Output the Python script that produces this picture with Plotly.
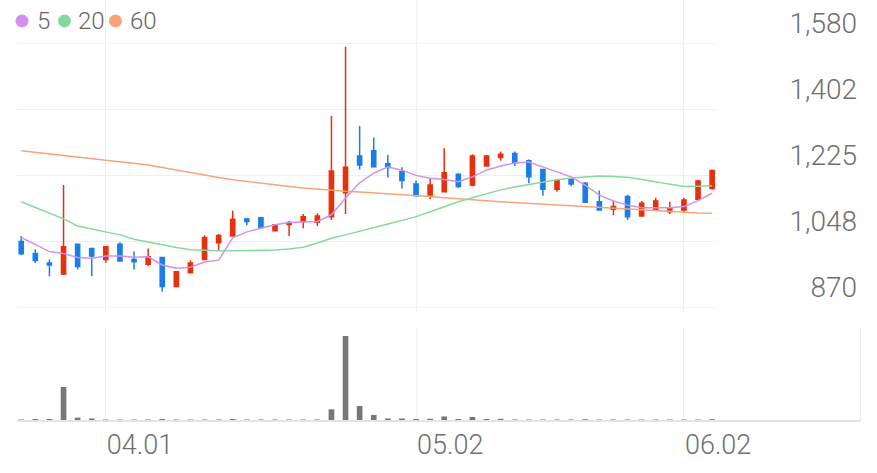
import plotly.graph_objects as go

# ---------------- data ----------------
dates = ["03.24", "03.25", "03.26", "03.27", "03.28", "03.31", "04.01", "04.02", "04.03", "04.04",
         "04.07", "04.08", "04.09", "04.10", "04.11", "04.14", "04.15", "04.16", "04.17", "04.18",
         "04.21", "04.22", "04.23", "04.24", "04.25", "04.28", "04.29", "04.30", "05.02", "05.07",
         "05.08", "05.09", "05.12", "05.13", "05.14", "05.15", "05.16", "05.19", "05.20", "05.21",
         "05.22", "05.23", "05.26", "05.27", "05.28", "05.29", "05.30", "06.02", "06.04", "06.05"]

open_p = [1046, 1014, 988, 959, 1039, 1027, 998, 1039, 998, 985,
          1003, 925, 962, 998, 1043, 1061, 1107, 1110, 1075, 1092,
          1100, 1098, 1113, 1177, 1276, 1290, 1255, 1234, 1201, 1171,
          1180, 1227, 1198, 1249, 1272, 1283, 1263, 1240, 1187, 1212,
          1203, 1153, 1133, 1167, 1115, 1131, 1126, 1131, 1160, 1189]
high_p = [1061, 1025, 998, 1198, 1040, 1028, 1034, 1044, 1019, 1027,
          1004, 967, 996, 1063, 1066, 1129, 1110, 1111, 1093, 1101,
          1120, 1122, 1384, 1570, 1357, 1326, 1279, 1246, 1210, 1214,
          1297, 1230, 1281, 1279, 1288, 1288, 1267, 1242, 1212, 1216,
          1206, 1183, 1156, 1172, 1155, 1164, 1153, 1164, 1212, 1240]
low_p = [1010, 988, 953, 956, 971, 953, 989, 992, 971, 980,
         911, 923, 960, 996, 1022, 1060, 1090, 1083, 1073, 1061,
         1082, 1088, 1104, 1120, 1240, 1245, 1218, 1189, 1168, 1160,
         1178, 1191, 1195, 1248, 1263, 1249, 1203, 1169, 1180, 1195,
         1150, 1130, 1117, 1104, 1113, 1129, 1120, 1124, 1158, 1185]
close_p = [1013, 995, 983, 1032, 979, 1007, 1032, 994, 992, 1005,
           925, 965, 988, 1057, 1062, 1106, 1100, 1084, 1091, 1097,
           1113, 1115, 1236, 1246, 1252, 1247, 1245, 1210, 1169, 1198,
           1231, 1194, 1276, 1276, 1281, 1258, 1220, 1187, 1210, 1201,
           1152, 1131, 1140, 1113, 1149, 1155, 1135, 1158, 1209, 1237]

ma5 = [1057, 1037, 1019, 1014, 1003, 1001, 1007, 1007, 1004, 1005,
       983, 974, 977, 991, 996, 1056, 1072, 1082, 1091, 1097,
       1099, 1100, 1118, 1163, 1204, 1230, 1247, 1238, 1224, 1216,
       1213, 1207, 1220, 1238, 1249, 1257, 1260, 1246, 1233, 1220,
       1198, 1171, 1155, 1144, 1137, 1136, 1137, 1140, 1156, 1176]
ma20 = [1153, 1137, 1121, 1107, 1088, 1080, 1073, 1064, 1052, 1044,
        1037, 1030, 1024, 1022, 1021, 1021, 1021, 1021, 1023, 1026,
        1031, 1042, 1055, 1064, 1073, 1083, 1093, 1103, 1113, 1126,
        1140, 1153, 1164, 1175, 1185, 1193, 1200, 1207, 1212, 1217,
        1220, 1222, 1221, 1219, 1213, 1207, 1200, 1194, 1195, 1196]
ma60 = [1290, 1286, 1282, 1278, 1274, 1270, 1265, 1261, 1257, 1252,
        1245, 1238, 1230, 1224, 1218, 1212, 1207, 1203, 1198, 1194,
        1190, 1187, 1183, 1181, 1179, 1177, 1175, 1172, 1169, 1167,
        1164, 1161, 1158, 1156, 1153, 1151, 1148, 1146, 1144, 1142,
        1140, 1137, 1135, 1132, 1130, 1128, 1126, 1124, 1123, 1122]

volume = [5000, 10000, 10000, 330000, 24000, 15000, 5000, 5000, 5000, 5000,
          10000, 5000, 5000, 5000, 5000, 10000, 5000, 5000, 5000, 5000,
          5000, 5000, 107000, 840000, 140000, 50000, 15000, 15000, 10000, 12000,
          35000, 10000, 30000, 10000, 12000, 5000, 5000, 5000, 5000, 5000,
          8000, 5000, 5000, 5000, 5000, 5000, 5000, 5000, 5000, 8000]

price_ticks = [870, 1047.5, 1225, 1402.5, 1580]
price_tick_text = ["870", "1,048", "1,225", "1,402", "1,580"]
date_ticks = ["04.01", "05.02", "06.02"]
legend_labels = ["5", "20", "60"]

# ---------------- style / layout ----------------
W, H = 877, 473
UP, DOWN = "#e8300e", "#1a7ee8"
C5, C20, C60 = "#cf93ee", "#86d99c", "#f7a47c"
GRID = "#efefef"
TXT = "#707070"
FONT = "Roboto"

# pixel geometry
plot_l, price_r, vol_r = 17, 715, 860
price_top, price_bot = 0, 312
vol_top, vol_bot = 328, 420
grid_top_px, grid_bot_px = 43, 307
step = 14.1
x0 = -0.3

scale = (grid_bot_px - grid_top_px) / (price_ticks[-1] - price_ticks[0])
ymax = price_ticks[-1] + (grid_top_px - price_top) / scale
ymin = price_ticks[0] - (price_bot - grid_bot_px) / scale

vmax = 920000

fig = go.Figure()

fig.add_trace(go.Candlestick(
    x=dates, open=open_p, high=high_p, low=low_p, close=close_p,
    increasing=dict(line=dict(color=UP, width=1.5), fillcolor=UP),
    decreasing=dict(line=dict(color=DOWN, width=1.5), fillcolor=DOWN),
    whiskerwidth=0, xaxis="x", yaxis="y", showlegend=False, hoverinfo="skip",
))
for vals, col in [(ma60, C60), (ma20, C20), (ma5, C5)]:
    fig.add_trace(go.Scatter(x=dates, y=vals, mode="lines",
                             line=dict(color=col, width=1.5),
                             xaxis="x", yaxis="y", showlegend=False, hoverinfo="skip"))

fig.add_trace(go.Bar(x=dates, y=volume, marker=dict(color="#777777", line=dict(width=0)),
                     xaxis="x2", yaxis="y2", showlegend=False, hoverinfo="skip"))

fig.update_layout(
    width=W, height=H,
    margin=dict(l=0, r=0, t=0, b=0),
    paper_bgcolor="white", plot_bgcolor="white",
    font=dict(family=FONT, color=TXT),
    boxgap=0.58, bargap=0.6,
    xaxis=dict(type="category", domain=[plot_l / W, price_r / W],
               range=[x0, x0 + (price_r - plot_l) / step],
               tickmode="array", tickvals=date_ticks, showticklabels=False,
               showgrid=True, gridcolor=GRID, gridwidth=1, zeroline=False,
               rangeslider=dict(visible=False), anchor="y", fixedrange=True),
    yaxis=dict(domain=[1 - price_bot / H, 1 - price_top / H], range=[ymin, ymax],
               tickmode="array", tickvals=price_ticks, ticktext=price_tick_text,
               side="left", anchor="free", position=857 / W,
               ticklabelposition="outside top", ticklabeloverflow="allow",
               ticks="", showgrid=True, gridcolor=GRID, gridwidth=1, zeroline=False,
               tickfont=dict(size=28, color=TXT, family=FONT, weight=300), fixedrange=True),
    xaxis2=dict(type="category", domain=[plot_l / W, vol_r / W],
                range=[x0, x0 + (vol_r - plot_l) / step],
                tickmode="array", tickvals=date_ticks, ticktext=date_ticks,
                ticklabelposition="outside right", ticks="",
                showgrid=True, gridcolor=GRID, gridwidth=1, zeroline=False,
                showline=True, linecolor="#e4e4e4", linewidth=2,
                tickfont=dict(size=27, color=TXT, family=FONT, weight=300),
                anchor="y2", fixedrange=True),
    yaxis2=dict(domain=[1 - vol_bot / H, 1 - vol_top / H], range=[0, vmax],
                side="right", anchor="x2", showticklabels=False, showgrid=False,
                zeroline=False, showline=True, linecolor="#eeeeee", linewidth=1,
                ticks="", fixedrange=True),
)

# legend (dots + labels)
leg_y = 21
dot_cx = [22, 64.5, 115.5]
txt_x = [34.5, 76, 128]
r = 6.5
for cx, tx, col, lab in zip(dot_cx, txt_x, [C5, C20, C60], legend_labels):
    fig.add_shape(type="circle", xref="paper", yref="paper",
                  x0=(cx - r) / W, x1=(cx + r) / W,
                  y0=1 - (leg_y + r) / H, y1=1 - (leg_y - r) / H,
                  fillcolor=col, line=dict(width=0))
    fig.add_annotation(x=tx / W, y=1 - leg_y / H, xref="paper", yref="paper",
                       text=lab, showarrow=False, xanchor="left", yanchor="middle",
                       font=dict(size=24, color="#666666", family=FONT, weight=300))

fig.write_html("out.html",
               config={"displayModeBar": False, "staticPlot": True},
               post_script="document.body.style.margin='0';document.body.style.overflow='hidden';")
